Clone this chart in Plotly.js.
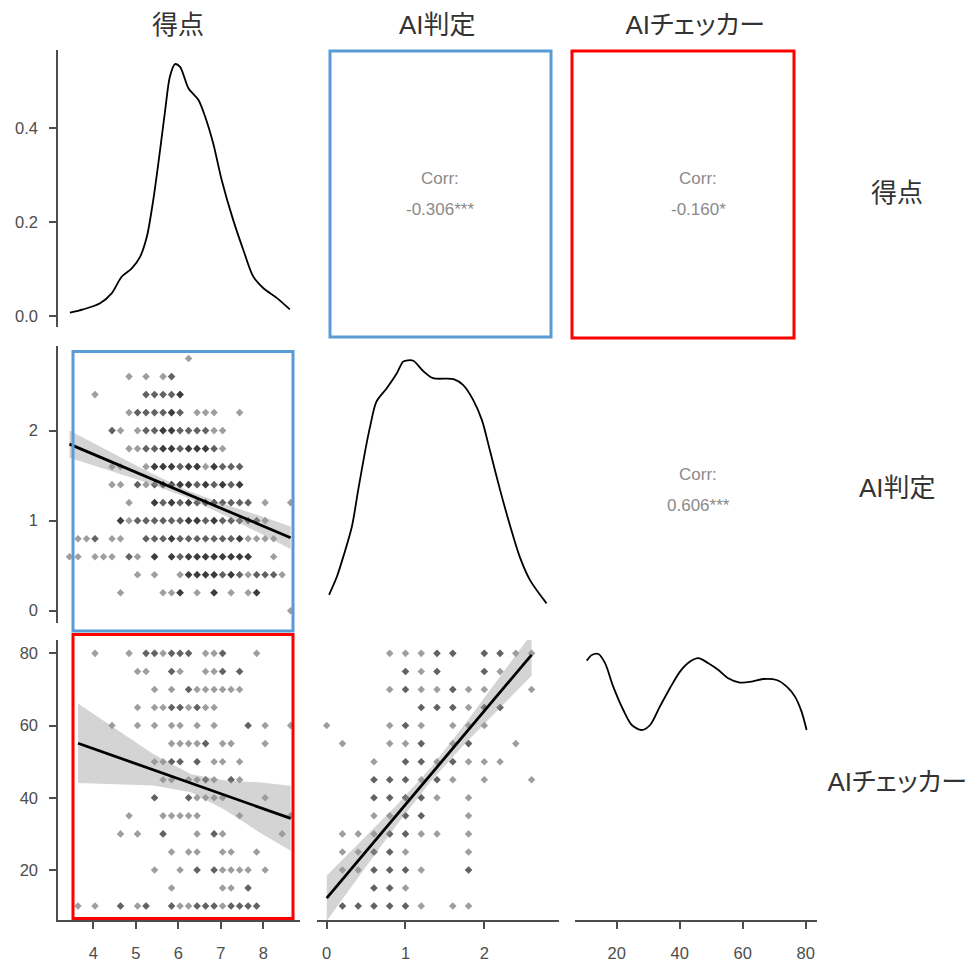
<!DOCTYPE html>
<html>
<head>
<meta charset="utf-8">
<script src="https://cdn.plot.ly/plotly-3.0.1.min.js"></script>
<style>
  html, body { margin: 0; padding: 0; background: #ffffff; }
  #chart { width: 968px; height: 962px; }
  /* proportional kana widths for the Japanese labels */
  #chart svg text { font-feature-settings: "palt" 1; }
</style>
</head>
<body>
<div id="chart"></div>
<script>
// ---- variables of the pairs matrix ----
const varNames = ['得点', 'AI判定', 'AIチェッカー'];

// distinct observed values of 得点 and AI判定
const scoreLevels = [3.44, 3.64, 3.84, 4.04, 4.24, 4.44, 4.64, 4.84, 5.04, 5.24, 5.44, 5.64, 5.84,
  6.04, 6.24, 6.44, 6.64, 6.84, 7.04, 7.24, 7.44, 7.64, 7.84, 8.04, 8.24, 8.44, 8.64];
const judgeLevels = [0, 0.2, 0.4, 0.6, 0.8, 1.0, 1.2, 1.4, 1.6, 1.8, 2.0, 2.2, 2.4, 2.6];

// AI判定 vs 得点 : [AI判定, [[得点 level index, count], ...]]
const judgeByScore = [
  [2.8, [[14,1]]],
  [2.6, [[7,1],[9,1],[11,1],[12,2]]],
  [2.4, [[3,1],[9,2],[10,2],[11,2],[12,2],[13,3]]],
  [2.2, [[7,1],[8,2],[9,2],[10,2],[11,2],[12,3],[13,2],[15,1],[16,1],[17,1],[20,1]]],
  [2.0, [[5,2],[6,1],[8,1],[9,2],[10,2],[11,3],[12,3],[13,2],[14,2],[15,2],[16,2],[17,1],[18,1]]],
  [1.8, [[7,1],[8,1],[9,2],[10,2],[11,3],[12,3],[13,2],[14,3],[15,3],[16,3],[17,2],[18,1]]],
  [1.6, [[5,1],[6,1],[9,1],[10,3],[11,3],[12,3],[13,2],[14,3],[15,3],[16,1],[17,3],[18,2],[19,2],[20,2]]],
  [1.4, [[5,1],[6,1],[8,2],[9,1],[10,2],[11,3],[12,3],[13,3],[14,3],[15,2],[16,3],[17,2],[18,3],[19,2],[20,3]]],
  [1.2, [[7,1],[10,3],[11,2],[12,3],[13,2],[14,3],[15,2],[16,3],[17,3],[18,2],[19,2],[20,2],[21,2],[23,1],[26,1]]],
  [1.0, [[6,3],[7,1],[8,2],[9,2],[10,2],[11,2],[12,2],[13,2],[14,3],[15,3],[16,2],[17,3],[18,2],[19,2],[20,2],[21,2],[22,2],[23,1]]],
  [0.8, [[1,1],[2,1],[3,2],[5,1],[6,1],[9,2],[10,2],[11,2],[12,3],[13,2],[14,2],[15,2],[16,2],[17,2],[18,2],[19,2],[20,3],[21,1],[22,1],[23,1],[24,1]]],
  [0.6, [[0,1],[1,1],[3,1],[4,1],[5,1],[7,2],[8,1],[10,3],[12,3],[13,2],[14,3],[15,3],[16,3],[17,3],[18,3],[19,3],[20,3],[21,3],[24,1]]],
  [0.4, [[8,1],[10,1],[13,1],[14,3],[15,3],[16,3],[17,3],[18,2],[19,3],[20,2],[21,1],[22,2],[23,2],[24,2],[25,1]]],
  [0.2, [[6,1],[11,1],[12,1],[13,3],[15,1],[17,3],[19,1],[21,1],[22,3]]],
  [0.0, [[26,1]]]
];

// AIチェッカー vs 得点 : [AIチェッカー, [[得点 level index, count], ...]]
const checkerByScore = [
  [80, [[3,1],[7,1],[9,2],[10,2],[11,1],[12,2],[13,2],[14,2],[16,1],[17,1],[18,2],[22,1]]],
  [75, [[8,1],[9,1],[12,2],[13,1],[16,1],[17,1],[18,2],[20,2]]],
  [70, [[10,1],[12,1],[14,2],[15,1],[16,1],[17,1],[18,1],[19,1],[20,1]]],
  [65, [[8,1],[10,1],[11,1],[12,2],[13,2],[14,1],[15,2],[16,1],[17,1]]],
  [60, [[5,1],[8,1],[10,1],[12,1],[13,1],[15,1],[17,1],[21,2],[23,1],[26,1]]],
  [55, [[12,1],[13,1],[14,1],[15,1],[16,2],[18,1],[19,1],[23,1]]],
  [50, [[10,1],[11,1],[12,2],[13,2],[15,2],[17,1],[18,1],[20,1]]],
  [45, [[11,1],[12,1],[14,1],[15,1],[16,2],[17,1],[19,2],[20,1]]],
  [40, [[10,2],[14,2],[15,1],[16,1],[17,1],[18,1],[23,1]]],
  [35, [[7,1],[11,1],[12,1],[13,1],[14,1],[15,1],[20,1],[26,1]]],
  [30, [[6,1],[8,1],[11,2],[15,1],[17,2],[18,1],[25,1]]],
  [25, [[12,1],[14,1],[15,1],[18,1],[19,1],[22,1]]],
  [20, [[10,1],[13,1],[15,2],[17,2],[18,1],[19,1],[20,1],[21,1],[23,1]]],
  [15, [[12,1],[18,1],[19,1],[21,2]]],
  [10, [[1,1],[3,1],[6,2],[8,1],[9,2],[12,2],[13,1],[14,1],[15,2],[16,2],[17,2],[18,1],[19,2],[20,2],[21,2],[22,2]]]
];

// AIチェッカー vs AI判定 : [AIチェッカー, [[AI判定 level index, count], ...]]
const checkerByJudge = [
  [80, [[4,1],[5,1],[6,1],[7,2],[8,2],[10,2],[11,2],[12,1],[13,1]]],
  [75, [[5,2],[6,1],[7,2],[10,2],[11,1]]],
  [70, [[4,1],[5,2],[6,1],[7,1],[8,2],[9,1],[10,1],[13,1]]],
  [65, [[6,2],[7,2],[8,2],[9,1],[10,2],[11,2]]],
  [60, [[0,1],[4,1],[5,2],[6,1],[8,1],[9,1],[10,1]]],
  [55, [[1,1],[4,1],[5,1],[6,2],[8,1],[9,2],[12,1]]],
  [50, [[3,1],[5,2],[6,2],[7,1],[8,2],[9,1],[10,1],[11,1]]],
  [45, [[3,2],[4,2],[5,2],[6,1],[7,2],[8,1],[10,1],[13,1]]],
  [40, [[3,2],[4,2],[5,2],[6,2],[7,1],[9,1]]],
  [35, [[3,1],[4,1],[5,2],[6,2],[9,1]]],
  [30, [[1,1],[2,1],[3,1],[4,2],[5,2],[6,1],[7,1],[9,1]]],
  [25, [[1,1],[2,1],[3,2],[4,2],[5,1],[9,1]]],
  [20, [[1,1],[2,1],[3,2],[4,2],[5,2],[6,1],[9,2]]],
  [15, [[3,2],[4,2],[5,1]]],
  [10, [[1,2],[2,2],[3,2],[4,2],[5,2],[6,1],[8,1],[9,1]]]
];

// kernel density estimates on the diagonal
const scoreDensX = [3.45, 3.76, 4.16, 4.43, 4.67, 4.90, 5.10, 5.26, 5.41, 5.57, 5.69, 5.80, 5.92,
  6.04, 6.24, 6.47, 6.63, 6.82, 7.02, 7.29, 7.53, 7.76, 8.00, 8.32, 8.62];
const scoreDensY = [0.007, 0.014, 0.027, 0.048, 0.084, 0.101, 0.126, 0.169, 0.247, 0.353, 0.438, 0.509, 0.536,
  0.530, 0.484, 0.460, 0.424, 0.367, 0.289, 0.204, 0.140, 0.084, 0.059, 0.038, 0.014];
const judgeDensX = [0.03, 0.13, 0.21, 0.32, 0.40, 0.49, 0.55, 0.63, 0.76, 0.89, 0.97, 1.03, 1.10, 1.23,
  1.35, 1.61, 1.73, 1.86, 1.97, 2.07, 2.20, 2.33, 2.45, 2.58, 2.79];
const judgeDensY = [0.043, 0.084, 0.128, 0.196, 0.278, 0.367, 0.419, 0.475, 0.505, 0.539, 0.565, 0.568, 0.567, 0.543,
  0.528, 0.526, 0.513, 0.479, 0.434, 0.367, 0.278, 0.196, 0.128, 0.076, 0.024];
const checkerDensX = [10.5, 12.1, 14.2, 16.3, 18.9, 22.1, 24.8, 27.9, 30.6, 33.7, 36.9, 40.1, 43.3,
  45.9, 49.1, 52.3, 55.4, 59.1, 62.9, 66.5, 70.8, 74.0, 76.6, 78.7, 80.3];
const checkerDensY = [0.01427, 0.01455, 0.01460, 0.01414, 0.01297, 0.01180, 0.01105, 0.01080, 0.01105, 0.01197,
  0.01289, 0.01372, 0.01422, 0.01439, 0.01414, 0.01380, 0.01339, 0.01317, 0.01322, 0.01335, 0.01330, 0.01297,
  0.01247, 0.01172, 0.01080];

// linear fits (end points) and their 95% confidence half-widths
const scoreJudgeFitX = [3.44, 8.64];
const scoreJudgeFitY = [1.85, 0.81];
const scoreJudgeBandX = [3.44, 4.3, 5.2, 6.2, 7.1, 7.9, 8.64];
const scoreJudgeBandHalf = [0.15, 0.11, 0.067, 0.04, 0.063, 0.098, 0.125];

const scoreCheckerFitX = [3.64, 8.64];
const scoreCheckerFitY = [55.1, 34.3];
const scoreCheckerBandX = [3.64, 4.5, 5.4, 6.3, 7.1, 7.9, 8.64];
const scoreCheckerBandHalf = [11.0, 7.7, 4.4, 2.5, 4.1, 6.9, 9.0];

const judgeCheckerFitX = [0.0, 2.6];
const judgeCheckerFitY = [12.2, 79.6];
const judgeCheckerBandX = [0.0, 0.45, 0.9, 1.33, 1.75, 2.2, 2.6];
const judgeCheckerBandHalf = [6.3, 4.4, 2.7, 1.9, 2.7, 4.35, 5.8];

// correlation labels of the upper triangle
const corrLabels = ['-0.306***', '-0.160*', '0.606***'];

// ---- page geometry (pixels) ----
const W = 968, H = 962;
const colPx = [[58, 300], [317, 559], [575, 817]];
const rowPx = [[50, 327], [346, 623], [640, 920]];
const xRanges = [[3.17, 8.86], [-0.123, 2.948], [6.76, 83.6]];
const yRanges = [[-0.0234, 0.566], [-0.137, 2.94], [6.15, 83.7]];
const diagYRanges = [[-0.0234, 0.566], [-0.02, 0.6], [0.0013, 0.0153]];

const px2x = p => p / W;
const px2y = p => 1 - p / H;

const FONT = 'Liberation Sans, Arial, Noto Sans CJK JP, sans-serif';
const INK = '#4d4d4d';
const POINT = 'rgba(0,0,0,0.38)';
const RIBBON = 'rgba(153,153,153,0.42)';

function axisId(r, c) { const n = r * 3 + c + 1; return n === 1 ? '' : String(n); }

function expand(rows, levels) {
  const xs = [], ys = [];
  rows.forEach(([yv, pts]) => {
    pts.forEach(([k, n]) => {
      for (let i = 0; i < n; i++) { xs.push(levels[k]); ys.push(yv); }
    });
  });
  return { xs, ys };
}

const traces = [];

function scatterPanel(r, c, rows, levels, fitX, fitY, bandX, bandHalf) {
  const id = axisId(r, c);
  const pts = expand(rows, levels);
  traces.push({
    type: 'scatter', mode: 'markers', x: pts.xs, y: pts.ys,
    xaxis: 'x' + id, yaxis: 'y' + id, hoverinfo: 'skip',
    marker: { symbol: 'diamond', size: 5.8, color: POINT, line: { width: 0 } }
  });
  const slope = (fitY[1] - fitY[0]) / (fitX[1] - fitX[0]);
  const mid = bandX.map(x => fitY[0] + slope * (x - fitX[0]));
  const upper = mid.map((m, i) => m + bandHalf[i]);
  const lower = mid.map((m, i) => m - bandHalf[i]);
  traces.push({
    type: 'scatter', mode: 'lines',
    x: bandX.concat(bandX.slice().reverse()),
    y: upper.concat(lower.slice().reverse()),
    fill: 'toself', fillcolor: RIBBON, line: { width: 0 },
    xaxis: 'x' + id, yaxis: 'y' + id, hoverinfo: 'skip'
  });
  traces.push({
    type: 'scatter', mode: 'lines', x: fitX, y: fitY,
    line: { color: '#000000', width: 2.8 },
    xaxis: 'x' + id, yaxis: 'y' + id, hoverinfo: 'skip'
  });
}

function densityPanel(i, xs, ys) {
  const id = axisId(i, i);
  traces.push({
    type: 'scatter', mode: 'lines', x: xs, y: ys,
    line: { color: '#000000', width: 1.8, shape: 'spline', smoothing: 0.8 },
    xaxis: 'x' + id, yaxis: 'y' + id, hoverinfo: 'skip'
  });
}

densityPanel(0, scoreDensX, scoreDensY);
densityPanel(1, judgeDensX, judgeDensY);
densityPanel(2, checkerDensX, checkerDensY);
scatterPanel(1, 0, judgeByScore, scoreLevels, scoreJudgeFitX, scoreJudgeFitY, scoreJudgeBandX, scoreJudgeBandHalf);
scatterPanel(2, 0, checkerByScore, scoreLevels, scoreCheckerFitX, scoreCheckerFitY, scoreCheckerBandX, scoreCheckerBandHalf);
scatterPanel(2, 1, checkerByJudge, judgeLevels, judgeCheckerFitX, judgeCheckerFitY, judgeCheckerBandX, judgeCheckerBandHalf);

const xTicks = [[4, 5, 6, 7, 8], [0, 1, 2], [20, 40, 60, 80]];
const yTicks = [[0, 0.2, 0.4], [0, 1, 2], [20, 40, 60, 80]];
const yTickText = [['0.0', '0.2', '0.4'], ['0', '1', '2'], ['20', '40', '60', '80']];

const layout = {
  width: W, height: H, autosize: false,
  margin: { l: 0, r: 0, t: 0, b: 0, pad: 0 },
  paper_bgcolor: '#ffffff', plot_bgcolor: 'rgba(0,0,0,0)',
  showlegend: false,
  font: { family: FONT, color: INK, size: 16 },
  annotations: [], shapes: []
};

for (let r = 0; r < 3; r++) {
  for (let c = 0; c < 3; c++) {
    const id = axisId(r, c);
    const bottom = r === 2, left = c === 0;
    const xa = {
      domain: [px2x(colPx[c][0]), px2x(colPx[c][1])],
      range: xRanges[c], anchor: 'y' + id,
      showgrid: false, zeroline: false, fixedrange: true,
      showline: bottom, linecolor: INK, linewidth: 1.7,
      ticks: bottom ? 'outside' : '', ticklen: 7, tickwidth: 2, tickcolor: INK,
      showticklabels: bottom, tickvals: xTicks[c], ticktext: xTicks[c].map(String),
      tickfont: { family: FONT, size: 16.5, color: INK }, ticklabelstandoff: 10
    };
    const ya = {
      domain: [px2y(rowPx[r][1]), px2y(rowPx[r][0])],
      range: r === c ? diagYRanges[r] : yRanges[r], anchor: 'x' + id,
      showgrid: false, zeroline: false, fixedrange: true,
      showline: left, linecolor: INK, linewidth: 1.7,
      ticks: left ? 'outside' : '', ticklen: 7, tickwidth: 2, tickcolor: INK,
      showticklabels: left, tickvals: yTicks[r], ticktext: yTickText[r],
      tickfont: { family: FONT, size: 16.5, color: INK }, ticklabelstandoff: 8
    };
    layout['xaxis' + id] = xa;
    layout['yaxis' + id] = ya;
  }
}

// column headers and row labels
const headerX = [178, 437, 695];
const rowLabelY = [193, 488, 782];
varNames.forEach((name, i) => {
  layout.annotations.push({
    xref: 'paper', yref: 'paper', x: px2x(headerX[i]), y: px2y(25),
    text: name, showarrow: false, xanchor: 'center', yanchor: 'middle',
    font: { family: FONT, size: 26, color: '#333333' }
  });
  layout.annotations.push({
    xref: 'paper', yref: 'paper', x: px2x(897), y: px2y(rowLabelY[i]),
    text: name, showarrow: false, xanchor: 'center', yanchor: 'middle',
    font: { family: FONT, size: 26, color: '#333333' }
  });
});

// correlation text in the upper triangle
const corrCells = [[0, 1], [0, 2], [1, 2]];
corrCells.forEach(([r, c], i) => {
  const cx = (colPx[c][0] + colPx[c][1]) / 2 + 2;
  const cy = (rowPx[r][0] + rowPx[r][1]) / 2;
  layout.annotations.push({
    xref: 'paper', yref: 'paper', x: px2x(cx), y: px2y(cy - 10),
    text: 'Corr:', showarrow: false, xanchor: 'center', yanchor: 'middle',
    font: { family: FONT, size: 17, color: '#8a8a8a' }
  });
  layout.annotations.push({
    xref: 'paper', yref: 'paper', x: px2x(cx), y: px2y(cy + 21),
    text: corrLabels[i], showarrow: false, xanchor: 'center', yanchor: 'middle',
    font: { family: FONT, size: 17, color: '#8a8a8a' }
  });
});

// highlight frames
const frames = [
  { x0: 330, y0: 51, x1: 551, y1: 337, color: '#5b9bd5' },
  { x0: 572, y0: 51, x1: 794, y1: 338, color: '#ff0000' },
  { x0: 73, y0: 351.5, x1: 293, y1: 631, color: '#5b9bd5' },
  { x0: 73, y0: 634.5, x1: 293, y1: 918.5, color: '#ff0000' }
];
frames.forEach(f => {
  layout.shapes.push({
    type: 'rect', xref: 'paper', yref: 'paper',
    x0: px2x(f.x0), x1: px2x(f.x1), y0: px2y(f.y1), y1: px2y(f.y0),
    line: { color: f.color, width: 3 }, fillcolor: 'rgba(0,0,0,0)', layer: 'above'
  });
});

Plotly.newPlot('chart', traces, layout, { staticPlot: true, displayModeBar: false });
</script>
</body>
</html>
